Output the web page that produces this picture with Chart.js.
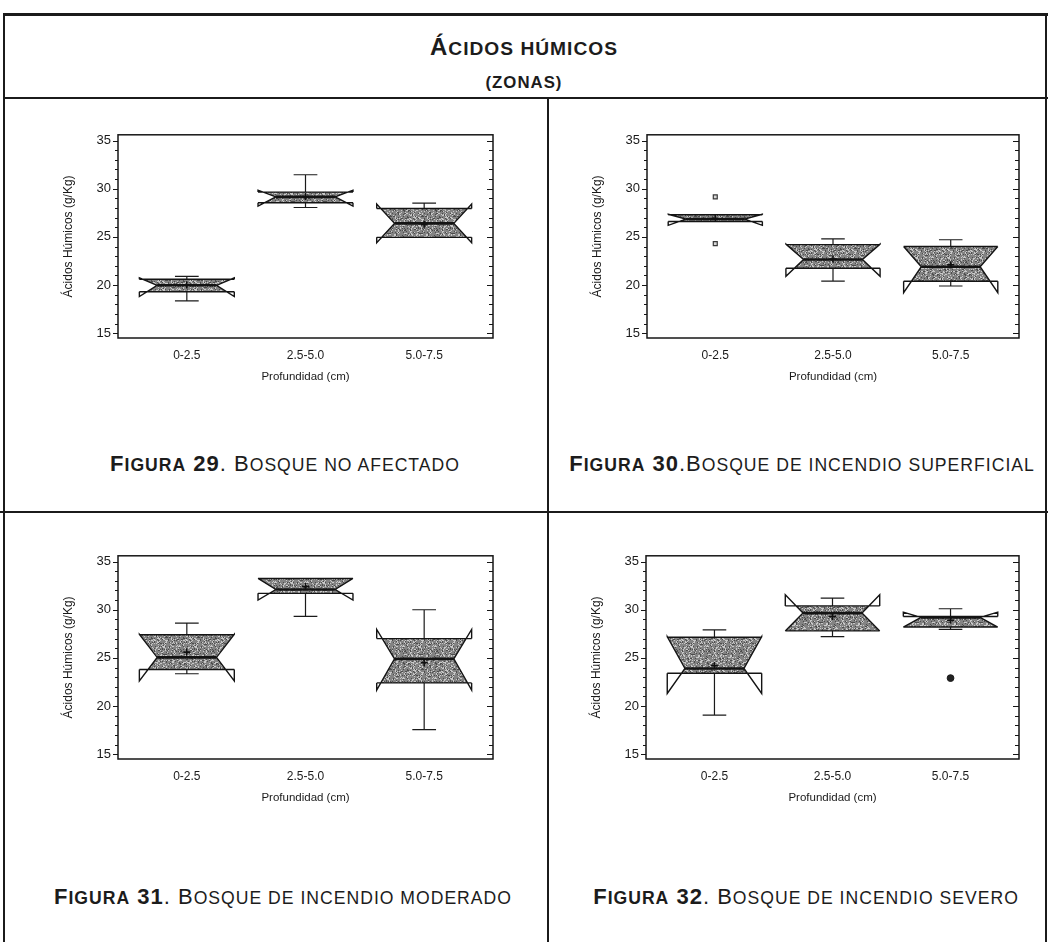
<!DOCTYPE html>
<html lang="es">
<head>
<meta charset="utf-8">
<title>Ácidos húmicos (zonas)</title>
<script src="https://cdn.jsdelivr.net/npm/chart.js@4.4.1/dist/chart.umd.min.js"></script>
<style>
  html, body { margin: 0; padding: 0; background: #fff; }
  #page { position: relative; width: 1048px; height: 942px; overflow: hidden; background: #fff;
          font-family: "Liberation Sans", Arial, sans-serif; color: #1c1c1c; }
  .rule { position: absolute; background: #1b1b1b; }
  .head { position: absolute; left: 0; width: 1048px; text-align: center; font-weight: bold; white-space: nowrap; line-height: 1; letter-spacing: 1px; }
  .cap { position: absolute; width: 600px; text-align: center; white-space: nowrap; font-size: 22px; line-height: 1; letter-spacing: 1px; }
  .sc { font-size: 0.8em; }
  .panel { position: absolute; }
</style>
</head>
<body>
<div id="page">
  <!-- table rules -->
  <div class="rule" style="left:3px; top:13px; width:1045px; height:3px;"></div>
  <div class="rule" style="left:3px; top:13px; width:2px; height:929px;"></div>
  <div class="rule" style="left:1045px; top:13px; width:2px; height:929px;"></div>
  <div class="rule" style="left:3px; top:97px; width:1045px; height:2px;"></div>
  <div class="rule" style="left:0px; top:511px; width:1048px; height:2px;"></div>
  <div class="rule" style="left:547px; top:98px; width:2px; height:844px;"></div>

  <div class="head" style="top:35px; font-size:24px;">Á<span class="sc">CIDOS HÚMICOS</span></div>
  <div class="head" style="top:70px; font-size:21px;"><span class="sc">(ZONAS)</span></div>

  <canvas id="c29" class="panel" width="480" height="290" style="left:30px; top:120px;"></canvas>
  <canvas id="c30" class="panel" width="477" height="290" style="left:559px; top:120px;"></canvas>
  <canvas id="c31" class="panel" width="480" height="290" style="left:30px; top:541px;"></canvas>
  <canvas id="c32" class="panel" width="478" height="290" style="left:558px; top:541px;"></canvas>

  <div class="cap" style="left:-15px; top:453px;"><b>F<span class="sc">IGURA</span> 29</b>. B<span class="sc">OSQUE NO AFECTADO</span></div>
  <div class="cap" style="left:502px; top:453px;"><b>F<span class="sc">IGURA</span> 30</b>.B<span class="sc">OSQUE DE INCENDIO SUPERFICIAL</span></div>
  <div class="cap" style="left:-17px; top:886px;"><b>F<span class="sc">IGURA</span> 31</b>. B<span class="sc">OSQUE DE INCENDIO MODERADO</span></div>
  <div class="cap" style="left:506px; top:886px;"><b>F<span class="sc">IGURA</span> 32</b>. B<span class="sc">OSQUE DE INCENDIO SEVERO</span></div>
</div>

<script>
// Depth classes on the x axis and labelled y ticks
const depthLabels = ['0-2.5', '2.5-5.0', '5.0-7.5'];
const yTickValues = [15, 20, 25, 30, 35];

// Box statistics, one row per figure (29, 30, 31, 32), one value per depth class (g/Kg)
const whiskerLow  = [[18.35, 28.05, 24.95], [26.6, 20.4, 19.9],   [23.35, 29.3, 17.55], [19.05, 27.2, 27.95]];
const notchLow    = [[18.8, 28.2, 24.4],    [26.2, 20.9, 19.2],   [22.6, 31.0, 21.65],  [21.3, 27.8, 28.2]];
const quartile1   = [[19.3, 28.55, 24.95],  [26.6, 21.75, 20.4],  [23.8, 31.7, 22.4],   [23.4, 27.8, 28.2]];
const medians     = [[19.97, 29.15, 26.4],  [26.85, 22.65, 21.9], [25.05, 32.1, 24.9],  [23.9, 29.65, 29.2]];
const quartile3   = [[20.6, 29.65, 27.95],  [27.3, 24.2, 24.0],   [27.4, 33.25, 27.0],  [27.15, 30.4, 29.3]];
const notchHigh   = [[20.75, 29.85, 28.4],  [27.35, 24.25, 24.0], [27.45, 33.25, 27.95],[27.2, 31.55, 29.75]];
const whiskerHigh = [[20.9, 31.45, 28.5],   [27.3, 24.8, 24.7],   [28.6, 33.25, 30.0],  [27.9, 31.2, 30.1]];
const means       = [[20.0, 29.2, 26.3],    [26.9, 22.7, 22.1],   [25.6, 32.4, 24.5],   [24.2, 29.3, 28.9]];

// Points outside the whiskers: [depth class index, value]
const outsidePoints    = [[], [[0, 29.15], [0, 24.3]], [], []];
const farOutsidePoints = [[], [], [], [[2, 22.9]]];

// Box geometry in x-axis units
const BOX_HALF = 0.40;
const WAIST_HALF = 0.25;
const CAP_HALF = 0.10;

Chart.defaults.font.family = '"Liberation Sans", Arial, sans-serif';
Chart.defaults.color = '#1a1a1a';

let speckle = null;
function speckleFill(ctx) {
  if (speckle) return speckle;
  const n = 32;
  const c = document.createElement('canvas');
  c.width = n; c.height = n;
  const g = c.getContext('2d');
  g.fillStyle = '#838383';
  g.fillRect(0, 0, n, n);
  for (let yy = 0; yy < n; yy++) {
    for (let xx = 0; xx < n; xx++) {
      let h = Math.imul(xx, 374761393) + Math.imul(yy, 668265263);
      h = Math.imul(h ^ (h >>> 13), 1274126177);
      h = (h ^ (h >>> 16)) >>> 0;
      const r = (h % 1000) / 1000;
      if (r < 0.22) { g.fillStyle = '#c8c8c8'; g.fillRect(xx, yy, 1, 1); }
      else if (r > 0.86) { g.fillStyle = '#4d4d4d'; g.fillRect(xx, yy, 1, 1); }
    }
  }
  speckle = ctx.createPattern(c, 'repeat');
  return speckle;
}

// Notched box-and-whisker drawing through the chart's own scales
const notchedBoxes = {
  id: 'notchedBoxes',
  beforeDatasetsDraw(chart, args, opts) {
    const f = opts.fig;
    const { ctx, scales: { x, y } } = chart;
    ctx.save();
    for (let i = 0; i < depthLabels.length; i++) {
      const c = x.getPixelForValue(i + 1);
      const W = x.getPixelForValue(i + 1 + BOX_HALF) - c;
      const w = x.getPixelForValue(i + 1 + WAIST_HALF) - c;
      const cw = x.getPixelForValue(i + 1 + CAP_HALF) - c;
      const lo = whiskerLow[f][i], nlo = notchLow[f][i], q1 = quartile1[f][i];
      const md = medians[f][i], q3 = quartile3[f][i], nhi = notchHigh[f][i], hi = whiskerHigh[f][i];
      const Y = v => y.getPixelForValue(v);

      // whiskers
      ctx.strokeStyle = '#1a1a1a';
      ctx.lineWidth = 1.2;
      ctx.beginPath();
      if (hi > q3) {
        ctx.moveTo(c, Y(q3)); ctx.lineTo(c, Y(hi));
        ctx.moveTo(c - cw, Y(hi)); ctx.lineTo(c + cw, Y(hi));
      }
      if (lo < q1) {
        ctx.moveTo(c, Y(q1)); ctx.lineTo(c, Y(lo));
        ctx.moveTo(c - cw, Y(lo)); ctx.lineTo(c + cw, Y(lo));
      }
      ctx.stroke();

      // one side of the notched outline: box edge at q1, notch limits, waist at the median, box edge at q3
      const side = s => [
        [c + s * W, Y(q1)],
        [c + s * W, Y(nlo)],
        [c + s * w, Y(md)],
        [c + s * W, Y(nhi)],
        [c + s * W, Y(q3)]
      ];
      const right = side(1), left = side(-1);

      // filled body: notch polygon limited to the quartile range
      ctx.save();
      ctx.beginPath();
      ctx.rect(c - W - 2, Y(q3), 2 * W + 4, Y(q1) - Y(q3));
      ctx.clip();
      ctx.beginPath();
      right.forEach(([px, py], k) => k ? ctx.lineTo(px, py) : ctx.moveTo(px, py));
      left.slice().reverse().forEach(([px, py]) => ctx.lineTo(px, py));
      ctx.closePath();
      ctx.fillStyle = speckleFill(ctx);
      ctx.fill();
      ctx.restore();

      // outline
      ctx.strokeStyle = '#141414';
      ctx.lineWidth = 1.4;
      ctx.lineJoin = 'miter';
      ctx.beginPath();
      [right, left].forEach(pts => pts.forEach(([px, py], k) => k ? ctx.lineTo(px, py) : ctx.moveTo(px, py)));
      ctx.moveTo(c - W, Y(q1)); ctx.lineTo(c + W, Y(q1));
      ctx.moveTo(c - W, Y(q3)); ctx.lineTo(c + W, Y(q3));
      ctx.stroke();

      // median
      ctx.lineWidth = 2.6;
      ctx.beginPath();
      ctx.moveTo(c - w, Y(md)); ctx.lineTo(c + w, Y(md));
      ctx.stroke();
    }
    ctx.restore();
  }
};

// Plot frame with major and minor ticks on both vertical sides
const plotFrame = {
  id: 'plotFrame',
  afterDraw(chart) {
    const { ctx, chartArea: a, scales: { y } } = chart;
    ctx.save();
    ctx.strokeStyle = '#161616';
    ctx.lineWidth = 1.5;
    ctx.strokeRect(a.left, a.top, a.right - a.left, a.bottom - a.top);
    ctx.lineWidth = 1;
    ctx.beginPath();
    for (let v = Math.ceil(y.min); v <= Math.floor(y.max); v++) {
      const py = Math.round(y.getPixelForValue(v)) + 0.5;
      const len = yTickValues.includes(v) ? 5 : 3;
      ctx.moveTo(a.left - len, py); ctx.lineTo(a.left, py);
      ctx.moveTo(a.right - len - 1, py); ctx.lineTo(a.right, py);
    }
    ctx.stroke();
    ctx.restore();
  }
};

function makeChart(id, fig) {
  return new Chart(document.getElementById(id), {
    type: 'scatter',
    data: {
      datasets: [
        {
          label: 'Media',
          data: means[fig].map((v, i) => ({ x: i + 1, y: v })),
          pointStyle: 'cross', pointRadius: 3.5, borderWidth: 1.6,
          borderColor: '#111', backgroundColor: '#111'
        },
        {
          label: 'Fuera',
          data: outsidePoints[fig].map(([k, v]) => ({ x: k + 1, y: v })),
          pointStyle: 'rect', pointRadius: 2.8, borderWidth: 1.2,
          borderColor: '#3a3a3a', backgroundColor: '#d8d8d8'
        },
        {
          label: 'Muy fuera',
          data: farOutsidePoints[fig].map(([k, v]) => ({ x: k + 1, y: v })),
          pointStyle: 'circle', pointRadius: 3.4, borderWidth: 1,
          borderColor: '#1a1a1a', backgroundColor: '#222'
        }
      ]
    },
    options: {
      responsive: false,
      animation: false,
      events: [],
      layout: { padding: { left: 27, right: 17, top: 11, bottom: 22 } },
      plugins: {
        legend: { display: false },
        tooltip: { enabled: false },
        notchedBoxes: { fig }
      },
      scales: {
        x: {
          type: 'linear', min: 0.42, max: 3.58,
          afterFit: s => { s.height = 50; },
          afterBuildTicks: s => { s.ticks = depthLabels.map((_, i) => ({ value: i + 1 })); },
          ticks: { callback: v => depthLabels[v - 1], padding: 10, maxRotation: 0, autoSkip: false, font: { size: 12 } },
          grid: { display: false, drawTicks: false },
          border: { display: false },
          title: { display: true, text: 'Profundidad (cm)', font: { size: 11.5 } }
        },
        y: {
          min: 14.5, max: 35.6,
          afterFit: s => { s.width = 61; },
          afterBuildTicks: s => { s.ticks = yTickValues.map(v => ({ value: v })); },
          ticks: { padding: 7, font: { size: 13 } },
          grid: { display: false, drawTicks: false },
          border: { display: false },
          title: { display: true, text: 'Ácidos Húmicos (g/Kg)', font: { size: 12 } }
        }
      }
    },
    plugins: [notchedBoxes, plotFrame]
  });
}

makeChart('c29', 0);
makeChart('c30', 1);
makeChart('c31', 2);
makeChart('c32', 3);
</script>
</body>
</html>
